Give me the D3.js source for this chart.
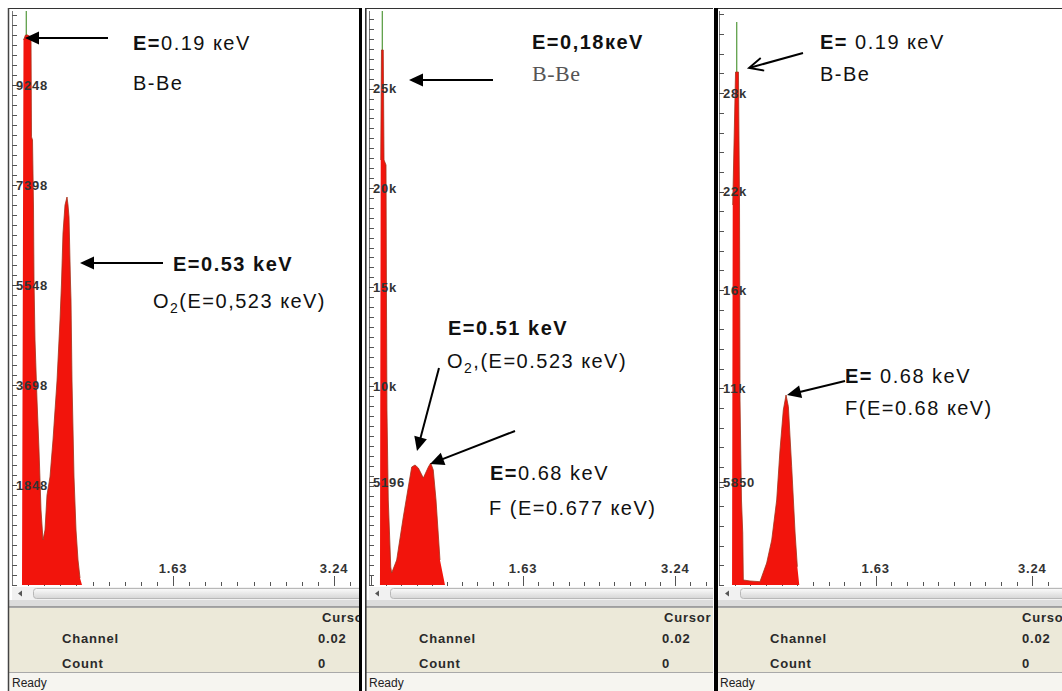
<!DOCTYPE html>
<html>
<meta charset="utf-8">
<style>
 body { margin: 0; background: #fff; }
 svg { display: block; font-family: "Liberation Sans", Arial, sans-serif; }
 .ylab, .xlab { font-size: 13px; font-weight: bold; fill: #333; letter-spacing: 0.8px; }
 .info { font-size: 13px; font-weight: bold; fill: #2a2a2a; letter-spacing: 0.8px; }
 .ready { font-size: 12px; fill: #222; }
 .note { font-size: 20px; fill: #111; letter-spacing: 1.5px; }
</style>
<body>
<script src="https://cdn.jsdelivr.net/npm/d3@7"></script>
<script>

var width = 1062, height = 691;

var spec1 = [[0.02,0],[0.12,0],[0.135,10090],[0.155,10183],[0.175,10183],[0.21,10146],[0.215,8296],
  [0.225,8239],[0.235,6998],[0.24,5647],[0.25,4536],[0.27,3425],[0.29,2499],[0.31,1389],[0.33,833],
  [0.35,1018],[0.37,1666],[0.40,2000],[0.43,2685],[0.47,3777],[0.50,4906],[0.515,5591],[0.53,6517],
  [0.55,7035],[0.57,7183],[0.58,7035],[0.59,6813],[0.605,5591],[0.61,5276],[0.62,3777],[0.64,2000],
  [0.66,1018],[0.68,463],[0.70,130],[0.72,0],[3.49,0]];
var spec2 = [[0,0],[0.116,0],[0.124,21408],[0.132,26950],[0.151,26950],[0.159,21408],[0.180,21157],
  [0.185,14356],[0.190,8815],[0.204,4282],[0.230,907],[0.240,604],[0.293,1259],[0.363,3425],
  [0.416,4937],[0.452,5944],[0.487,6045],[0.522,5894],[0.575,5390],[0.628,5944],[0.653,6146],
  [0.680,5793],[0.709,4282],[0.751,1259],[0.804,0],[3.64,0]];
var spec3 = [[0.02,0],[0.154,0],[0.161,21633],[0.190,29205],[0.220,29205],[0.231,21633],[0.236,10532],
  [0.251,4839],[0.264,2960],[0.270,285],[0.339,228],[0.441,188],[0.510,1252],[0.562,2562],
  [0.613,4839],[0.647,7686],[0.681,9963],[0.709,10817],[0.733,10151],[0.767,6735],[0.802,2960],
  [0.825,1042],[0.845,0],[3.545,0]];

// thin green tip of the B-Be line [keV, counts]
var tip1 = [0.163, 14000];
var tip2 = [0.141, 31000];
var tip3 = [0.202, 32052];

// axes
var xDom1 = [0.02, 3.49], xDom2 = [0, 3.64], xDom3 = [0.02, 3.545];
var xStep = 0.161, xMajor = [0.02, 1.63, 3.24];
var xLabels = ["1.63", "3.24"];
var yMax1 = 10627, yMax2 = 28914, yMax3 = 32678;
var yTicks1 = [1848, 3698, 5548, 7398, 9248];
var yLabels1 = ["1848", "3698", "5548", "7398", "9248"];
var yTicks2 = [5196, 10000, 15000, 20000, 25000];
var yLabels2 = ["5196", "10k", "15k", "20k", "25k"];
var yTicks3 = [5850, 11200, 16800, 22400, 28000];
var yLabels3 = ["5850", "11k", "16k", "22k", "28k"];
var yMinor1 = 185, yMinor2 = 500, yMinor3 = 1120;

// cursor box
var infoRows = ["Channel", "Count"];
var infoVals = ["0.02", "0"];

// annotations: text runs [text, bold, sub]
var notes1 = [
  {x: 133, y: 50, parts: [["E=", 1], ["0.19 кeV", 0]]},
  {x: 133, y: 90, parts: [["B-Be", 0]]},
  {x: 173, y: 271, parts: [["E=0.53 keV", 1]]},
  {x: 153, y: 308, parts: [["O", 0], ["2", 0, 1], ["(E=0,523 кeV)", 0]]}
];
var arrows1 = [
  {tip: [0.15, 10127], from: [108, 38]},
  {tip: [0.70, 5962], from: [163, 263]}
];
var notes2 = [
  {x: 532, y: 49, parts: [["E=0,18кeV", 1]]},
  {x: 532, y: 81, parts: [["B-Be", 0]], serif: true},
  {x: 448, y: 335, parts: [["E=0.51 keV", 1]]},
  {x: 447, y: 368, parts: [["O", 0], ["2", 0, 1], [",(E=0.523 кeV)", 0]]},
  {x: 490, y: 480, parts: [["E=", 1], ["0.68 keV", 0]]},
  {x: 489, y: 515, parts: [["F (E=0.677 кeV)", 0]]}
];
var arrows2 = [
  {tip: [0.423, 25438], from: [493, 80]},
  {tip: [0.508, 6750], from: [439, 368]},
  {tip: [0.646, 6095], from: [515, 431]}
];
var notes3 = [
  {x: 820, y: 49, parts: [["E=", 1], [" 0.19 кeV", 0]]},
  {x: 820, y: 81, parts: [["B-Be", 0]]},
  {x: 845, y: 383, parts: [["E=", 1], [" 0.68 keV", 0]]},
  {x: 845, y: 415, parts: [["F(E=0.68 кeV)", 0]]}
];
var arrows3 = [
  {tip: [0.328, 29433], from: [803, 53], open: true},
  {tip: [0.719, 10817], from: [845, 381]}
];

var panels = [
  {data: spec1, tip: tip1, xDom: xDom1, yMax: yMax1, yTicks: yTicks1, yLabels: yLabels1, yMinor: yMinor1,
   notes: notes1, arrows: arrows1, left: 8, axisX: 12, right: 359, cursorX: 322, valX: 318},
  {data: spec2, tip: tip2, xDom: xDom2, yMax: yMax2, yTicks: yTicks2, yLabels: yLabels2, yMinor: yMinor2,
   notes: notes2, arrows: arrows2, left: 365, axisX: 369, right: 713, cursorX: 664, valX: 662},
  {data: spec3, tip: tip3, xDom: xDom3, yMax: yMax3, yTicks: yTicks3, yLabels: yLabels3, yMinor: yMinor3,
   notes: notes3, arrows: arrows3, left: 716, axisX: 719, right: 1062, cursorX: 1022, valX: 1022}
];

var plotTop = 11, plotBase = 585;

var svg = d3.select("body").append("svg")
  .attr("width", width)
  .attr("height", height);
svg.append("rect").attr("width", width).attr("height", height).attr("fill", "#fff");

var defs = svg.append("defs");
var grad = defs.append("linearGradient").attr("id", "thumb").attr("x1", 0).attr("y1", 0).attr("x2", 0).attr("y2", 1);
grad.append("stop").attr("offset", "0%").attr("stop-color", "#fbfbfb");
grad.append("stop").attr("offset", "100%").attr("stop-color", "#d6d6d6");

panels.forEach(function (p, i) {
  defs.append("clipPath").attr("id", "pan" + i)
    .append("rect").attr("x", p.left).attr("y", 0).attr("width", p.right - p.left).attr("height", height);
  defs.append("clipPath").attr("id", "plot" + i)
    .append("rect").attr("x", p.axisX).attr("y", plotTop).attr("width", p.right - p.axisX).attr("height", plotBase - plotTop + 1);

  var x = d3.scaleLinear().domain(p.xDom).range([p.axisX, p.right]);
  var y = d3.scaleLinear().domain([0, p.yMax]).range([plotBase, plotTop]);

  var g = svg.append("g").attr("clip-path", "url(#pan" + i + ")");
  var plot = g.append("g").attr("clip-path", "url(#plot" + i + ")");

  // x ticks (under the spectrum)
  var xt = d3.range(-30, 40).map(function (k) { return {v: 0.02 + k * xStep, major: k % 10 === 0}; })
    .filter(function (d) { return d.v >= p.xDom[0] && d.v <= p.xDom[1]; });
  plot.selectAll(".xt").data(xt).enter().append("line")
    .attr("x1", function (d) { return Math.round(x(d.v)) + 0.5; })
    .attr("x2", function (d) { return Math.round(x(d.v)) + 0.5; })
    .attr("y1", plotBase + 1)
    .attr("y2", function (d) { return d.major ? plotBase - 9 : plotBase - 3; })
    .attr("stroke", "#555").attr("stroke-width", 1);

  // green tip
  plot.append("line")
    .attr("x1", x(p.tip[0])).attr("x2", x(p.tip[0]))
    .attr("y1", y(0)).attr("y2", y(p.tip[1]))
    .attr("stroke", "#5fa04a").attr("stroke-width", 1.3);

  // spectrum
  var area = d3.area()
    .x(function (d) { return x(d[0]); })
    .y0(y(0))
    .y1(function (d) { return y(d[1]); });
  plot.append("path").datum(p.data)
    .attr("d", area)
    .attr("fill", "#f2140c");
  var outline = d3.line()
    .defined(function (d) { return d[1] > 0; })
    .x(function (d) { return x(d[0]); })
    .y(function (d) { return y(d[1]); });
  plot.append("path").datum(p.data)
    .attr("d", outline)
    .attr("fill", "none")
    .attr("stroke", "#a3321a").attr("stroke-width", 0.8);

  // y axis
  g.append("line").attr("x1", p.axisX + 0.5).attr("x2", p.axisX + 0.5)
    .attr("y1", plotTop).attr("y2", plotBase + 1).attr("stroke", "#777");
  g.selectAll(".ym").data(d3.range(0, p.yMax, p.yMinor)).enter().append("line")
    .attr("x1", p.axisX).attr("x2", p.axisX + 5)
    .attr("y1", function (d) { return Math.round(y(d)) + 0.5; })
    .attr("y2", function (d) { return Math.round(y(d)) + 0.5; })
    .attr("stroke", "#555");
  g.selectAll(".yl").data(p.yTicks).enter().append("text")
    .attr("class", "ylab")
    .attr("x", p.axisX + 4)
    .attr("y", function (d) { return y(d); })
    .attr("dy", "0.36em")
    .text(function (d, k) { return p.yLabels[k]; });
  g.selectAll(".yt").data(p.yTicks).enter().append("line")
    .attr("x1", p.axisX).attr("x2", p.axisX + 5)
    .attr("y1", function (d) { return Math.round(y(d)) + 0.5; })
    .attr("y2", function (d) { return Math.round(y(d)) + 0.5; })
    .attr("stroke", "#444");

  // x labels
  g.selectAll(".xl").data(xMajor.slice(1)).enter().append("text")
    .attr("class", "xlab")
    .attr("x", function (d) { return x(d); })
    .attr("y", 573)
    .attr("text-anchor", "middle")
    .text(function (d, k) { return xLabels[k]; });

  // scrollbar
  g.append("rect").attr("x", p.axisX).attr("y", 587).attr("width", p.right - p.axisX).attr("height", 13).attr("fill", "#f1f1f1");
  g.append("rect").attr("x", p.axisX + 21.5).attr("y", 588.5).attr("width", p.right - p.axisX).attr("height", 10)
    .attr("rx", 3).attr("fill", "url(#thumb)").attr("stroke", "#b8b8b8");
  g.append("path")
    .attr("d", "M" + (p.axisX + 6) + ",593.5 l4,-3 v6 z")
    .attr("fill", "#555");

  // cursor info box
  g.append("rect").attr("x", p.left).attr("y", 600).attr("width", p.right - p.left).attr("height", 7).attr("fill", "#dcdcdc");
  g.append("line").attr("x1", p.left).attr("x2", p.right).attr("y1", 607).attr("y2", 607).attr("stroke", "#8a8a8a").attr("stroke-width", 1.5);
  g.append("rect").attr("x", p.left).attr("y", 608).attr("width", p.right - p.left).attr("height", 64).attr("fill", "#ece9d9");
  g.append("rect").attr("x", p.left).attr("y", 672).attr("width", p.right - p.left).attr("height", 19).attr("fill", "#f6f5f0");
  g.append("line").attr("x1", p.left).attr("x2", p.right).attr("y1", 672.5).attr("y2", 672.5).attr("stroke", "#a9a9a9");
  g.append("text").attr("class", "info").attr("x", p.cursorX).attr("y", 622).text("Cursor");
  g.selectAll(".ir").data(infoRows).enter().append("text")
    .attr("class", "info")
    .attr("x", p.left + 54)
    .attr("y", function (d, k) { return 643 + k * 25; })
    .text(function (d) { return d; });
  g.selectAll(".iv").data(infoVals).enter().append("text")
    .attr("class", "info")
    .attr("x", p.valX)
    .attr("y", function (d, k) { return 643 + k * 25; })
    .text(function (d) { return d; });
  g.append("text").attr("class", "ready").attr("x", p.left + 4).attr("y", 687).text("Ready");

  // frame
  g.append("line").attr("x1", p.left).attr("x2", p.right).attr("y1", 8.5).attr("y2", 8.5).attr("stroke", "#333").attr("stroke-width", 1.2);

  // annotations
  p.notes.forEach(function (n) {
    var t = svg.append("text").attr("class", "note").attr("x", n.x).attr("y", n.y);
    if (n.serif) t.style("font-family", "'Liberation Serif', serif").style("font-size", "22px")
      .style("fill", "#555").style("letter-spacing", "0.5px");
    var shift = 0;
    n.parts.forEach(function (r) {
      var s = t.append("tspan").text(r[0]);
      if (r[1]) s.attr("font-weight", "bold");
      if (r[2]) { s.attr("dy", 5).attr("font-size", "14px"); shift = 5; }
      else if (shift) { s.attr("dy", -shift); shift = 0; }
    });
  });
  p.arrows.forEach(function (a) {
    var tx = x(a.tip[0]), ty = y(a.tip[1]);
    var dx = tx - a.from[0], dy = ty - a.from[1];
    var len = Math.sqrt(dx * dx + dy * dy);
    var ux = dx / len, uy = dy / len;
    var hl = 14, hw = 6.5;
    var bx = tx - ux * hl, by = ty - uy * hl;
    var end = a.open ? [tx - ux * 2, ty - uy * 2] : [bx + ux * 2, by + uy * 2];
    svg.append("line").attr("x1", a.from[0]).attr("y1", a.from[1])
      .attr("x2", end[0]).attr("y2", end[1])
      .attr("stroke", "#000").attr("stroke-width", 2);
    var pts = [[bx - uy * hw, by + ux * hw], [tx, ty], [bx + uy * hw, by - ux * hw]];
    if (a.open) {
      svg.append("path").attr("d", d3.line()(pts)).attr("fill", "none").attr("stroke", "#000").attr("stroke-width", 1.8);
    } else {
      svg.append("path").attr("d", d3.line()(pts) + "Z").attr("fill", "#000");
    }
  });
});

// panel borders
svg.append("line").attr("x1", 8.5).attr("x2", 8.5).attr("y1", 8).attr("y2", height).attr("stroke", "#444").attr("stroke-width", 1.5);
svg.append("line").attr("x1", 360.5).attr("x2", 360.5).attr("y1", 8).attr("y2", height).attr("stroke", "#000").attr("stroke-width", 3);
svg.append("line").attr("x1", 365.8).attr("x2", 365.8).attr("y1", 8).attr("y2", height).attr("stroke", "#333").attr("stroke-width", 1.6);
svg.append("line").attr("x1", 716).attr("x2", 716).attr("y1", 8).attr("y2", height).attr("stroke", "#000").attr("stroke-width", 4);

</script>
</body>
</html>
